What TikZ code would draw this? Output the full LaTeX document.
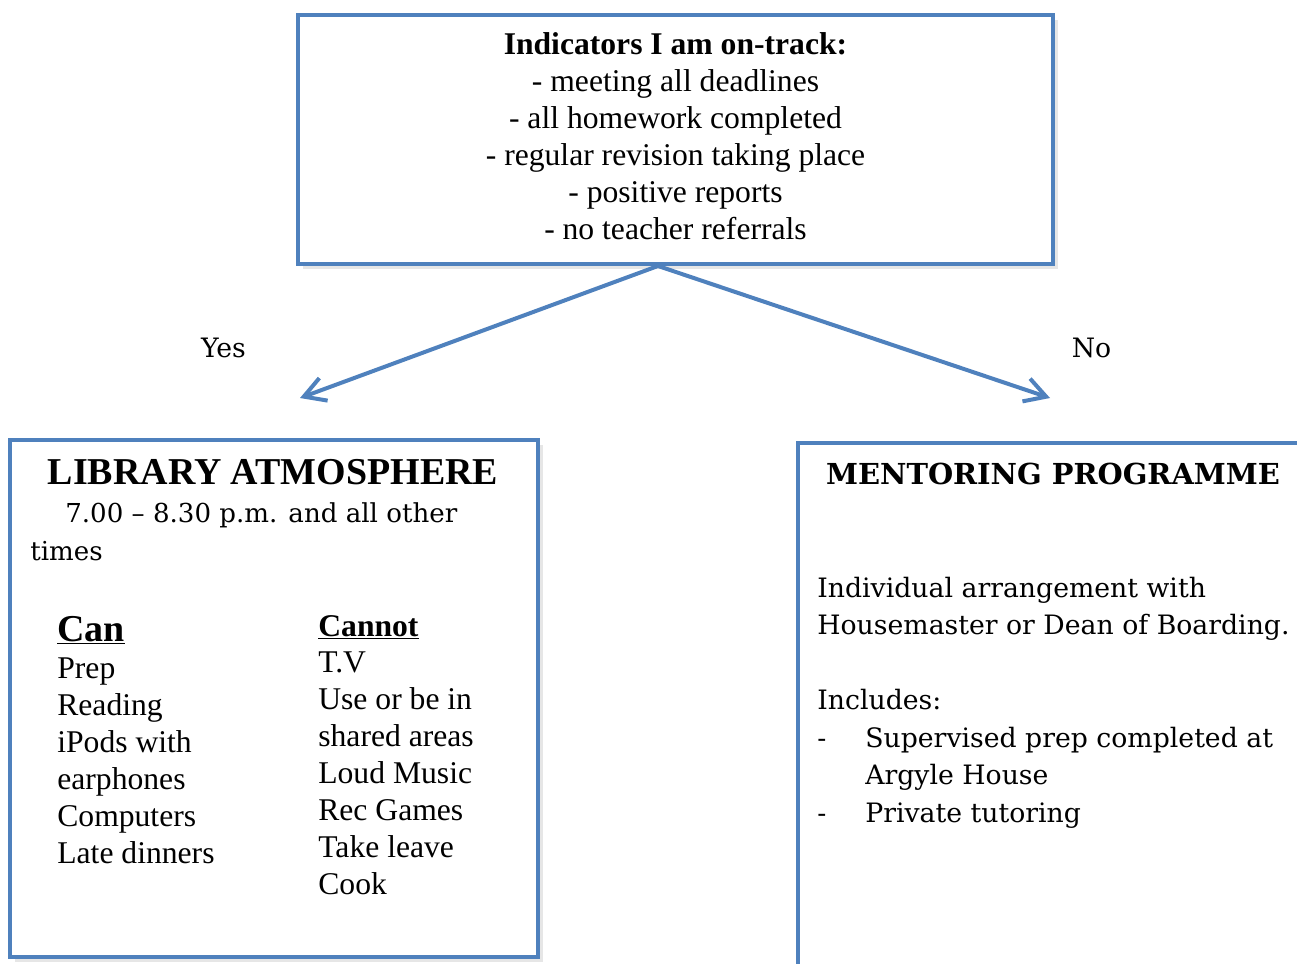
\documentclass[tikz,border=0pt]{standalone}
\usepackage{fontspec}
\setmainfont{Liberation Serif}
\newfontfamily\cambria{DejaVu Serif}
\usepackage{tikz}
\usetikzlibrary{calc,arrows.meta,shadows}
\definecolor{boxblue}{HTML}{4F81BD}

\begin{document}
\begin{tikzpicture}[x=0.02cm,y=-0.02cm]
    \tikzstyle{box}=[rectangle,draw=boxblue,line width=0.08cm,fill=white,inner sep=0,
        drop shadow={opacity=0.2,shadow xshift=2.6pt,shadow yshift=-2.6pt}]
    \tikzstyle{branch}=[draw=boxblue,line width=0.08cm,line cap=round,line join=round,
        -{Straight Barb[length=0.42cm,width=0.48cm]}]
    \tikzstyle{times text}=[font=\fontsize{18}{21.06}\selectfont,inner sep=0]
    \tikzstyle{times head}=[font=\bfseries\fontsize{21.6}{24}\selectfont,inner sep=0]
    \tikzstyle{cambria text}=[font=\cambria\fontsize{15.2}{21.34}\selectfont,inner sep=0]
    \tikzstyle{cambria head}=[font=\cambria\bfseries\fontsize{16.45}{20}\selectfont,inner sep=0]

    \useasboundingbox (0,0) rectangle (1297,963);

    % question box
    \node(indicators)[box,times text,minimum width=15.1cm,minimum height=4.98cm,align=center,
        text depth=0.12cm] at (675.5,139.5){\textbf{Indicators I am on-track:}\\- meeting all deadlines\\
        - all homework completed\\- regular revision taking place\\- positive reports\\
        - no teacher referrals};

    % answer boxes
    \node(library)[box,minimum width=10.56cm,minimum height=10.34cm] at (274,698.5){};
    \node(mentoring)[box,minimum width=10.5cm,minimum height=11cm,anchor=north west] at (796,441){};

    % yes / no
    \coordinate(split) at ($(indicators.south)+(-17.5,0)$);
    \coordinate(yes end) at (300,398);
    \coordinate(no end) at (1050,398);
    \draw[branch] (split) -- (yes end);
    \draw[branch] (split) -- (no end);
    \node(yes)[cambria text] at (223.5,348){Yes};
    \node(no)[cambria text] at (1091.5,348){No};

    % library atmosphere (multi-line nodes sit on their last baseline)
    \node(library title)[times head,anchor=base] at (273,484){LIBRARY ATMOSPHERE};
    \node(library times)[cambria text,font=\cambria\fontsize{14.85}{21.34}\selectfont,align=left,
        anchor=base west] at (30,560){\hspace*{0.7cm}7.00 – 8.30 p.m. and all other\\times};
    \node(can)[times head,anchor=base west] at (57,641){\underline{Can}};
    \node(can list)[times text,align=left,anchor=base west] at (57,863)
        {Prep\\Reading\\iPods with\\earphones\\Computers\\Late dinners};
    \node(cannot)[times text,font=\bfseries\fontsize{18}{21}\selectfont,anchor=base west] at (318,636){\underline{Cannot}};
    \node(cannot list)[times text,align=left,anchor=base west] at (318,894)
        {T.V\\Use or be in\\shared areas\\Loud Music\\Rec Games\\Take leave\\Cook};

    % mentoring programme
    \node(mentoring title)[cambria head,anchor=base] at (1053,484){MENTORING PROGRAMME};
    \node(mentoring text)[cambria text,align=left,anchor=base west] at (817,822)
        {Individual arrangement with\\Housemaster or Dean of Boarding.\\[21.34pt]Includes:\\
        \makebox[0.96cm][l]{-}Supervised prep completed at\\\hspace*{0.96cm}Argyle House\\
        \makebox[0.96cm][l]{-}Private tutoring};
\end{tikzpicture}
\end{document}
